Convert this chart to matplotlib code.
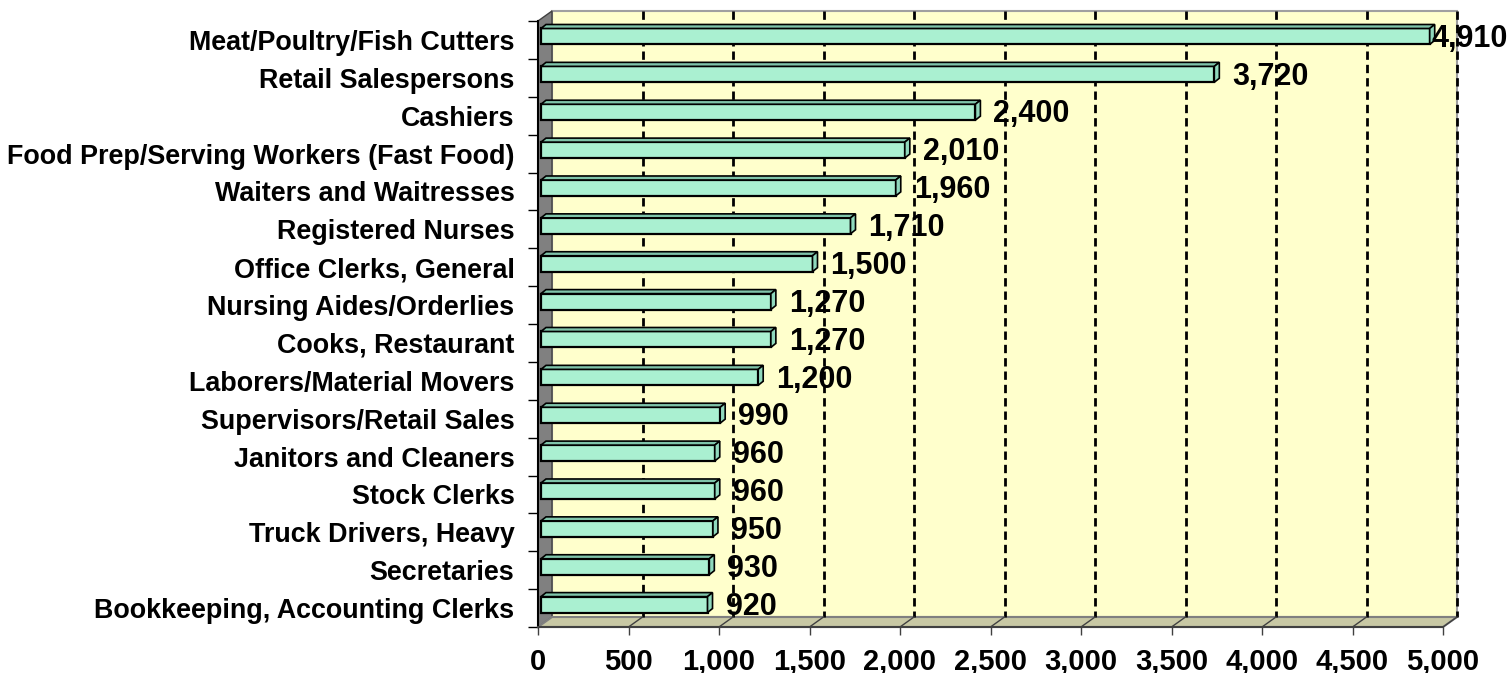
import numpy as np
import matplotlib.pyplot as plt
from matplotlib.patches import Polygon, Rectangle

# Occupations and job counts (top to bottom)
occupations = [
    "Meat/Poultry/Fish Cutters",
    "Retail Salespersons",
    "Cashiers",
    "Food Prep/Serving Workers (Fast Food)",
    "Waiters and Waitresses",
    "Registered Nurses",
    "Office Clerks, General",
    "Nursing Aides/Orderlies",
    "Cooks, Restaurant",
    "Laborers/Material Movers",
    "Supervisors/Retail Sales",
    "Janitors and Cleaners",
    "Stock Clerks",
    "Truck Drivers, Heavy",
    "Secretaries",
    "Bookkeeping, Accounting Clerks",
]
jobs = [4910, 3720, 2400, 2010, 1960, 1710, 1500, 1270, 1270, 1200, 990, 960, 960, 950, 930, 920]
x_ticks = np.arange(0, 5001, 500)

plt.rcParams['font.family'] = ['Liberation Sans', 'DejaVu Sans']
plt.rcParams['font.weight'] = 'bold'

W, H = 1511, 673
fig = plt.figure(figsize=(W / 100, H / 100), dpi=100)
left, right, top, bottom = 538, 1443, 21, 627
ax = fig.add_axes([left / W, (H - bottom) / H, (right - left) / W, (bottom - top) / H])

n = len(occupations)
xmax = 5000
ax.set_xlim(0, xmax)
ax.set_ylim(n - 0.5, -0.5)

# pixel -> data unit helpers
px_x = xmax / (right - left)
px_y = n / (bottom - top)
ddx, ddy = 14 * px_x, -10 * px_y  # depth of the 3D box

# back wall
ax.add_patch(Rectangle((ddx, -0.5 + ddy), xmax, n, facecolor='#FFFFCC',
                       edgecolor='#A0A0A0', lw=1.5, zorder=0, clip_on=False))
# left wall
ax.add_patch(Polygon([(0, n - 0.5), (0, -0.5), (ddx, -0.5 + ddy), (ddx, n - 0.5 + ddy)],
                     closed=True, facecolor='#808080', edgecolor='#404040', lw=1, zorder=1, clip_on=False))
# floor
ax.add_patch(Polygon([(0, n - 0.5), (xmax, n - 0.5), (xmax + ddx, n - 0.5 + ddy), (ddx, n - 0.5 + ddy)],
                     closed=True, facecolor='#C8C8A4', edgecolor='#808080', lw=1.5, zorder=1, clip_on=False))

# dashed gridlines on the back wall
for v in x_ticks[1:]:
    ax.plot([v + ddx, v + ddx], [-0.5 + ddy, n - 0.5 + ddy], color='black',
            ls=(0, (3, 1.8)), lw=2, zorder=2, clip_on=False)
    ax.plot([v, v + ddx], [n - 0.5, n - 0.5 + ddy], color='#404040', lw=1, zorder=2, clip_on=False)

# bars with a small 3D lip
bx, by = 3 * px_x, -3.5 * px_y
bdx, bdy = 5 * px_x, -4 * px_y
bh = 0.42
y = np.arange(n)
ax.barh(y + by, jobs, left=bx, height=bh, color='#AAF0D1', edgecolor='black', lw=1.6, zorder=4)
label_limit = 4939  # labels are kept inside the chart area
for i, v in enumerate(jobs):
    yc = i + by
    t = yc - bh / 2
    ax.add_patch(Polygon([(bx, t), (bx + v, t), (bx + v + bdx, t + bdy), (bx + bdx, t + bdy)],
                         closed=True, facecolor='#7FC4AA', edgecolor='black', lw=1.2, zorder=4))
    ax.add_patch(Polygon([(bx + v, t), (bx + v + bdx, t + bdy), (bx + v + bdx, t + bh + bdy), (bx + v, t + bh)],
                         closed=True, facecolor='#8FD8BC', edgecolor='black', lw=1.2, zorder=4))
    lx = min(bx + v + bdx + 13 * px_x, label_limit)
    ax.text(lx, yc + 0.06, f"{v:,}", ha='left', va='center', fontsize=22,
            fontweight='bold', zorder=5, clip_on=False)

# axes styling
for s in ['top', 'right']:
    ax.spines[s].set_visible(False)
ax.spines['left'].set_color('black')
ax.spines['left'].set_linewidth(1.5)
ax.spines['bottom'].set_color('#404040')
ax.spines['bottom'].set_linewidth(1.5)
ax.patch.set_visible(False)

ax.set_xticks(x_ticks)
ax.set_xticklabels([f"{v:,}" for v in x_ticks])
ax.tick_params(axis='x', length=6, width=1, color='#404040', pad=9, labelsize=21)
ax.set_yticks(y)
ax.set_yticklabels(occupations)
ax.set_yticks(np.arange(n + 1) - 0.5, minor=True)
ax.tick_params(axis='y', which='major', length=0, pad=17, labelsize=19.4)
ax.tick_params(axis='y', which='minor', length=7, width=1, color='black')

fig.savefig('out.png', dpi=100)
